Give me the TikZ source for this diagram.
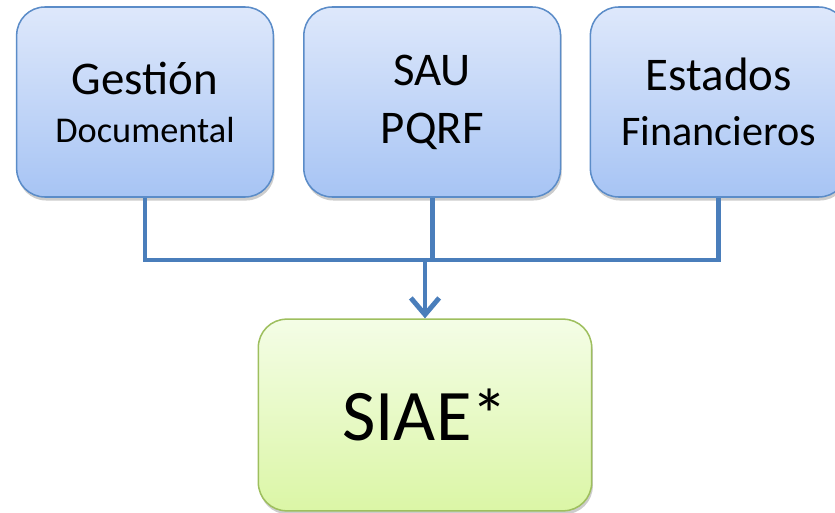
\documentclass[tikz,border=0pt]{standalone}
\usepackage{fontspec}
\setmainfont{Carlito}
\usetikzlibrary{positioning,shadows,arrows.meta}
\definecolor{linkblue}{HTML}{4A7EBB}
\definecolor{boxedge}{HTML}{5B8CC8}
\definecolor{boxtop}{HTML}{DEE8FB}
\definecolor{boxbot}{HTML}{A7C4F4}
\definecolor{greenedge}{HTML}{9EBF5E}
\definecolor{greentop}{HTML}{F4FDE6}
\definecolor{greenbot}{HTML}{DBF6A6}

\begin{document}
\begin{tikzpicture}[x=0.03cm,y=-0.03cm,
src/.style={draw=boxedge,line width=1.3pt,rectangle,rounded corners=0.85cm,
    minimum width=7.7cm,minimum height=5.7cm,align=center,
    top color=boxtop,bottom color=boxbot,
    drop shadow={shadow xshift=1pt,shadow yshift=-3pt,opacity=0.4}},
dst/.style={src,draw=greenedge,top color=greentop,bottom color=greenbot,
    minimum width=10cm,minimum height=5.75cm},
link/.style={draw=linkblue,line width=4.2pt}]
\useasboundingbox (0,0) rectangle (835,513);
\node (gd) [src,font=\fontsize{40}{41}\selectfont] at (145,102)
    {Gestión\\{\fontsize{31}{41}\selectfont Documental}};
\node (sau) [src,right=0.87cm of gd,font=\fontsize{40}{49.5}\selectfont]
    {SAU\\PQRF};
\node (ef) [src,right=0.85cm of sau,font=\fontsize{40}{47}\selectfont]
    {Estados\\{\fontsize{36}{47}\selectfont Financieros}};
\node (siae) [dst] at (425,415) {\fontsize{62}{70}\selectfont SIAE*};
% bus to the system
\draw[link] (gd.south) -- (gd.south |- 0,260) -- (ef.south |- 0,260) -- (ef.south);
\draw[link] (sau.south) -- (sau.south |- 0,260);
\draw[link,-{Straight Barb[length=0.5cm,width=0.85cm]}] (siae.north |- 0,258) -- (siae.north);
\end{tikzpicture}
\end{document}
